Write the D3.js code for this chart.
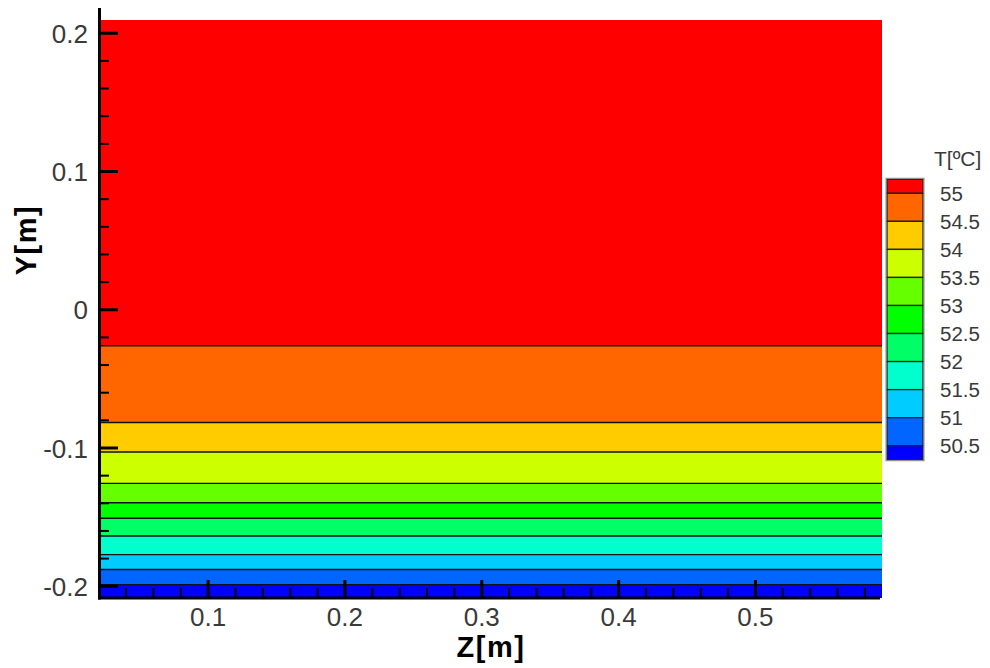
<!DOCTYPE html>
<html>
<head>
<meta charset="utf-8">
<script src="https://cdn.jsdelivr.net/npm/d3@7"></script>
<style>
html,body{margin:0;padding:0;background:#fff;}
svg{display:block;font-family:"Liberation Sans",Arial,Helvetica,sans-serif;}
</style>
</head>
<body>
<svg id="chart" width="990" height="668"></svg>
<script>
// ---- data ----
const bandColors = ["#FF0000","#FF6600","#FFCC00","#CCFF00","#66FF00","#00FF00","#00FF66","#00FFCC","#00CCFF","#0066FF","#0000FF"];
// y positions [m] of the contour boundaries between bands (top to bottom)
const contourY = [-0.0260, -0.0815, -0.1029, -0.1256, -0.1396, -0.1508, -0.1636, -0.1771, -0.1879, -0.1988];
const legendLevels = [55, 54.5, 54, 53.5, 53, 52.5, 52, 51.5, 51, 50.5];
const legendLabels = ["55","54.5","54","53.5","53","52.5","52","51.5","51","50.5"];
const xMajor = [0.1, 0.2, 0.3, 0.4, 0.5];
const xMajorLabels = ["0.1","0.2","0.3","0.4","0.5"];
const xMinor = [0.04,0.06,0.08,0.12,0.14,0.16,0.18,0.22,0.24,0.26,0.28,0.32,0.34,0.36,0.38,0.42,0.44,0.46,0.48,0.52,0.54,0.56,0.58];
const yMajor = [0.2, 0.1, 0, -0.1, -0.2];
const yMajorLabels = ["0.2","0.1","0","-0.1","-0.2"];
const yMinor = [0.18,0.16,0.14,0.12,0.08,0.06,0.04,0.02,-0.02,-0.04,-0.06,-0.08,-0.12,-0.14,-0.16,-0.18];
const xDomain = [0.021, 0.5925];
const yDomain = [-0.2085, 0.2096];

// ---- scales ----
const svg = d3.select("#chart");
const x = d3.scaleLinear().domain(xDomain).range([100, 882]);
const y = d3.scaleLinear().domain(yDomain).range([598, 20]);

// bands
const edges = [yDomain[1], ...contourY, yDomain[0]];
const bands = bandColors.map((c, i) => ({color: c, top: edges[i], bottom: edges[i + 1]}));
svg.append("g").selectAll("rect").data(bands).join("rect")
  .attr("x", x(xDomain[0]))
  .attr("width", x(xDomain[1]) - x(xDomain[0]))
  .attr("y", d => y(d.top))
  .attr("height", d => y(d.bottom) - y(d.top))
  .attr("fill", d => d.color);

// contour lines
svg.append("g").selectAll("line").data(contourY).join("line")
  .attr("x1", x(xDomain[0])).attr("x2", x(xDomain[1]))
  .attr("y1", d => y(d)).attr("y2", d => y(d))
  .attr("stroke", "#111").attr("stroke-width", 1.4);

// axes lines
svg.append("line").attr("x1", 99.5).attr("x2", 99.5).attr("y1", 8).attr("y2", 599.5)
  .attr("stroke", "#000").attr("stroke-width", 3);
svg.append("line").attr("x1", 98).attr("x2", 880).attr("y1", 598).attr("y2", 598)
  .attr("stroke", "#000").attr("stroke-width", 3);

// y ticks (inside, to the right)
svg.append("g").selectAll("line").data(yMajor).join("line")
  .attr("x1", 100).attr("x2", 118)
  .attr("y1", d => y(d)).attr("y2", d => y(d))
  .attr("stroke", "#000").attr("stroke-width", 3);
svg.append("g").selectAll("line").data(yMinor).join("line")
  .attr("x1", 100).attr("x2", 109)
  .attr("y1", d => y(d)).attr("y2", d => y(d))
  .attr("stroke", "#000").attr("stroke-width", 2);

// x ticks (inside, upward)
svg.append("g").selectAll("line").data(xMajor).join("line")
  .attr("x1", d => x(d)).attr("x2", d => x(d))
  .attr("y1", 598).attr("y2", 580)
  .attr("stroke", "#000").attr("stroke-width", 3);
svg.append("g").selectAll("line").data(xMinor).join("line")
  .attr("x1", d => x(d)).attr("x2", d => x(d))
  .attr("y1", 598).attr("y2", 588)
  .attr("stroke", "#000").attr("stroke-width", 2);

// tick labels
svg.append("g").selectAll("text").data(yMajor).join("text")
  .attr("x", 88).attr("y", d => y(d) + 9.5)
  .attr("text-anchor", "end")
  .attr("font-size", 26).attr("fill", "#3a3a3a")
  .text((d, i) => yMajorLabels[i]);
svg.append("g").selectAll("text").data(xMajor).join("text")
  .attr("x", d => x(d)).attr("y", 626)
  .attr("text-anchor", "middle")
  .attr("font-size", 26).attr("fill", "#3a3a3a")
  .text((d, i) => xMajorLabels[i]);

// axis titles
svg.append("text").attr("x", 491).attr("y", 657)
  .attr("text-anchor", "middle").attr("font-size", 29).attr("font-weight", "bold")
  .attr("letter-spacing", 1.5)
  .text("Z[m]");
svg.append("text").attr("transform", "translate(36,240) rotate(-90)")
  .attr("text-anchor", "middle").attr("font-size", 29).attr("font-weight", "bold")
  .attr("letter-spacing", 1.5)
  .text("Y[m]");

// legend
const ly = d3.scaleLinear().domain([55, 50.5]).range([193.3, 445.7]);
const step = ly(54.5) - ly(55);
const lg = svg.append("g");
const legendBoxes = bandColors.map((c, i) => {
  const top = i === 0 ? ly(55) - step / 2 : ly(legendLevels[i - 1]);
  const bottom = i === bandColors.length - 1 ? ly(50.5) + step / 2 : ly(legendLevels[i]);
  return {color: c, top, bottom};
});
lg.selectAll("rect").data(legendBoxes).join("rect")
  .attr("x", 887).attr("width", 36)
  .attr("y", d => d.top).attr("height", d => d.bottom - d.top)
  .attr("fill", d => d.color)
  .attr("stroke", "#222").attr("stroke-width", 1.3);
lg.append("rect").attr("x", 886).attr("y", ly(55) - step / 2 - 1)
  .attr("width", 38).attr("height", (ly(50.5) - ly(55)) + step + 2)
  .attr("fill", "none").attr("stroke", "#888").attr("stroke-width", 1);
lg.selectAll("text.lab").data(legendLevels).join("text").attr("class", "lab")
  .attr("x", 940).attr("y", d => ly(d) + 7.5)
  .attr("font-size", 20.5).attr("fill", "#3a3a3a")
  .text((d, i) => legendLabels[i]);
lg.append("text").attr("x", 934).attr("y", 166)
  .attr("font-size", 21).attr("fill", "#3a3a3a")
  .text("T[ºC]");
</script>
</body>
</html>
